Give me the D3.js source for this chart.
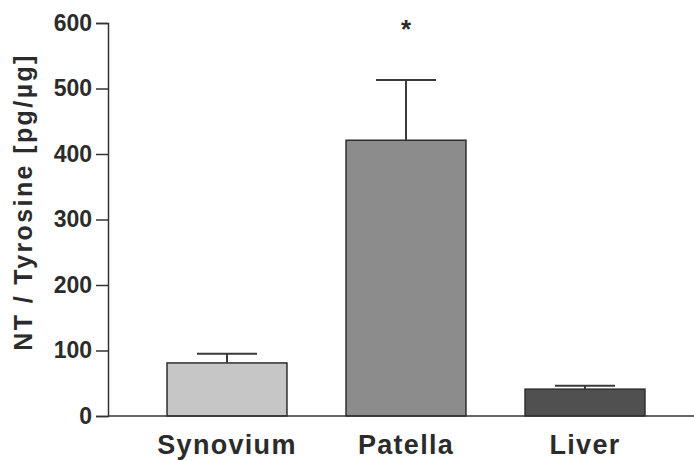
<!DOCTYPE html>
<html>
<head>
<meta charset="utf-8">
<script src="https://cdn.jsdelivr.net/npm/d3@7"></script>
<style>
  body { margin: 0; background: #fff; }
  text { font-family: "Liberation Sans", Arial, sans-serif; font-weight: bold; fill: #2b2b2b; }
</style>
</head>
<body>
<div id="chart"></div>
<script>
// data
var tissues = ['Synovium', 'Patella', 'Liver'];
var means = [81, 421, 41];
var errors = [14, 92, 5];
var fills = ['#c6c6c6', '#8c8c8c', '#505050'];
var yTicks = [0, 100, 200, 300, 400, 500, 600];
var signif = ['', '*', ''];

var width = 694, height = 461;
var margin = {top: 23, right: 0, bottom: 45, left: 108};

var svg = d3.select('#chart').append('svg')
    .attr('width', width)
    .attr('height', height);

var x = d3.scaleBand()
    .domain(tissues)
    .range([137.5, 674.5])
    .paddingInner(0.33)
    .paddingOuter(0.165);

var y = d3.scaleLinear()
    .domain([0, 600])
    .range([height - margin.bottom, margin.top]);

// bars
svg.selectAll('rect.bar')
    .data(tissues)
    .enter().append('rect')
    .attr('class', 'bar')
    .attr('x', function(d){ return x(d); })
    .attr('width', x.bandwidth())
    .attr('y', function(d, i){ return y(means[i]); })
    .attr('height', function(d, i){ return y(0) - y(means[i]); })
    .attr('fill', function(d, i){ return fills[i]; })
    .attr('stroke', '#2e2e2e')
    .attr('stroke-width', 1.5);

// error bars (upper only)
var cx = function(d){ return x(d) + x.bandwidth() / 2; };
svg.selectAll('line.err')
    .data(tissues)
    .enter().append('line')
    .attr('class', 'err')
    .attr('x1', cx).attr('x2', cx)
    .attr('y1', function(d, i){ return y(means[i]); })
    .attr('y2', function(d, i){ return y(means[i] + errors[i]); })
    .attr('stroke', '#3a3a3a')
    .attr('stroke-width', 2);

svg.selectAll('line.cap')
    .data(tissues)
    .enter().append('line')
    .attr('class', 'cap')
    .attr('x1', function(d){ return cx(d) - 30; })
    .attr('x2', function(d){ return cx(d) + 30; })
    .attr('y1', function(d, i){ return y(means[i] + errors[i]); })
    .attr('y2', function(d, i){ return y(means[i] + errors[i]); })
    .attr('stroke', '#3a3a3a')
    .attr('stroke-width', 2);

// significance star
svg.selectAll('text.star')
    .data(tissues)
    .enter().append('text')
    .attr('class', 'star')
    .attr('x', cx)
    .attr('y', 38)
    .attr('text-anchor', 'middle')
    .style('font-size', '26px')
    .text(function(d, i){ return signif[i]; });

// y axis
var yAxis = d3.axisLeft(y)
    .tickValues(yTicks)
    .tickSize(12)
    .tickPadding(4);

var gy = svg.append('g')
    .attr('transform', 'translate(' + margin.left + ',0)')
    .call(yAxis);
gy.select('.domain').attr('stroke', '#333').attr('stroke-width', 1.5);
gy.selectAll('.tick line').attr('stroke', '#333').attr('stroke-width', 1.5);
gy.selectAll('.tick text')
    .attr('fill', '#2b2b2b')
    .style('font-size', '23px')
    .style('font-family', '"Liberation Sans", Arial, sans-serif')
    .style('font-weight', 'bold');

// x axis line
svg.append('line')
    .attr('x1', margin.left).attr('x2', width)
    .attr('y1', y(0)).attr('y2', y(0))
    .attr('stroke', '#333')
    .attr('stroke-width', 1.5);

// category labels
svg.selectAll('text.cat')
    .data(tissues)
    .enter().append('text')
    .attr('class', 'cat')
    .attr('x', cx)
    .attr('y', 454)
    .attr('text-anchor', 'middle')
    .style('font-size', '27px')
    .style('letter-spacing', '1.3px')
    .text(function(d){ return d; });

// y axis title
svg.append('text')
    .attr('transform', 'translate(32,202) rotate(-90)')
    .attr('text-anchor', 'middle')
    .style('font-size', '25px')
    .style('letter-spacing', '2.4px')
    .text('NT / Tyrosine [pg/\u00b5g]');
</script>
</body>
</html>
